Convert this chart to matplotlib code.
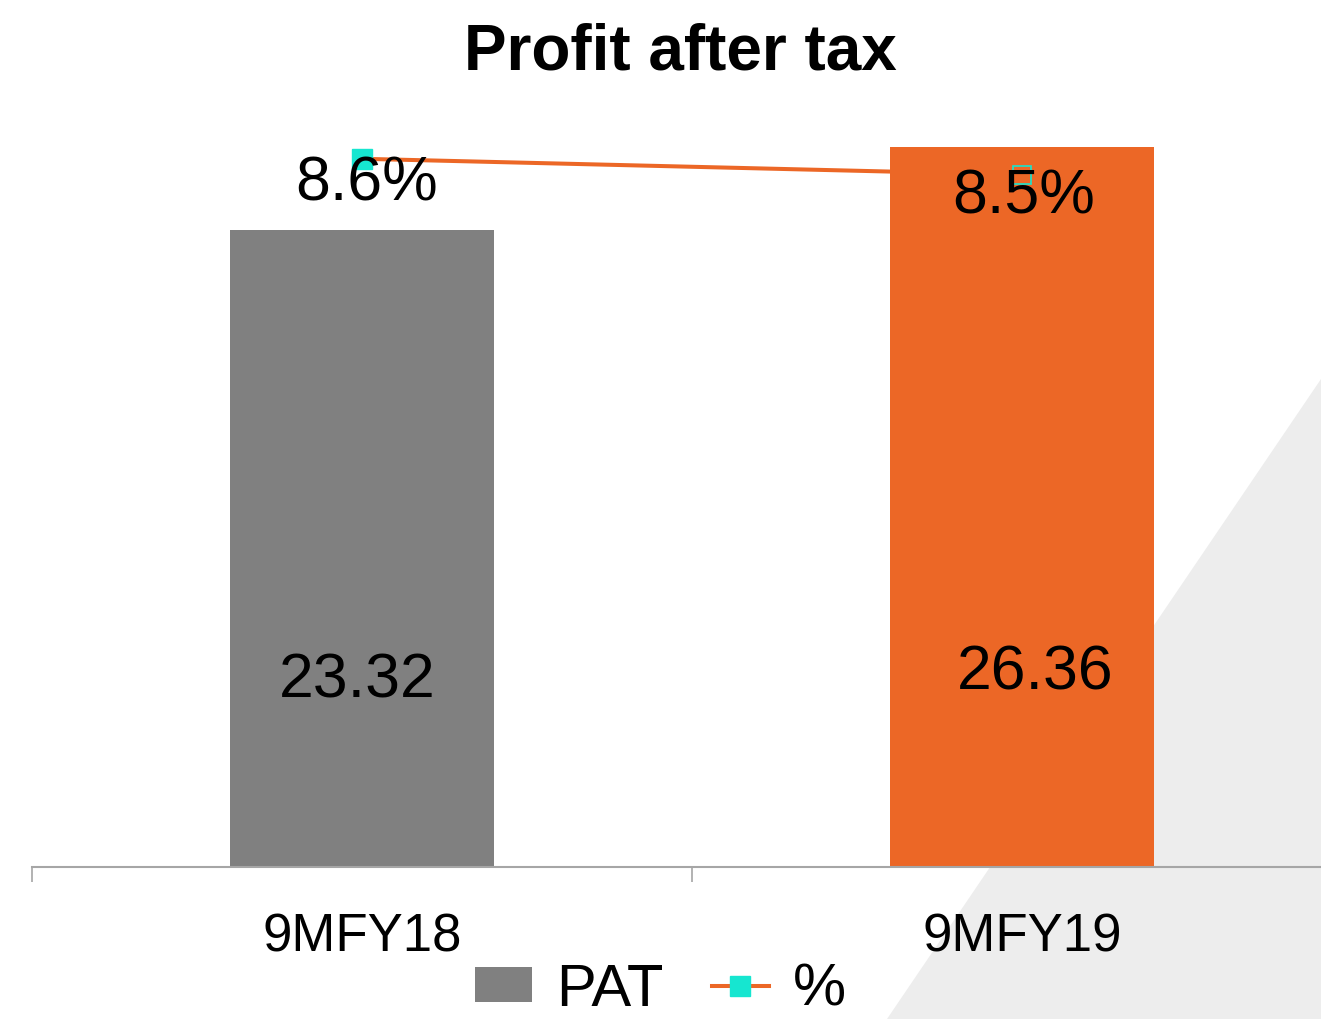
import matplotlib
matplotlib.use("Agg")
import matplotlib.pyplot as plt
from matplotlib.patches import Polygon, Patch
from matplotlib.lines import Line2D

plt.rcParams['font.family'] = ['Liberation Sans', 'DejaVu Sans']

categories = ["9MFY18", "9MFY19"]
pat_values = [23.32, 26.36]
pct_values = [8.6, 8.5]
pat_labels = ["23.32", "26.36"]
pct_labels = ["8.6%", "8.5%"]
title = "Profit after tax"

bar_colors = ["#808080", "#EC6726"]
line_color = "#EC6726"
marker_color = "#16E6D0"

W, H = 1321, 1019
fig = plt.figure(figsize=(W / 100, H / 100), dpi=100)

# background decorative triangle
tri = Polygon([(1321 / W, 1 - 379 / H), (887 / W, 0), (1, 0)], closed=True,
              transform=fig.transFigure, facecolor="#EDEDED", edgecolor="none", zorder=0)
fig.patches.append(tri)

left, right = 32 / W, 1352 / W
bottom, top = 1 - 867 / H, 1 - 130 / H
ax = fig.add_axes([left, bottom, right - left, top - bottom])
ax2 = ax.twinx()
ax.set_zorder(ax2.get_zorder() + 1)
ax.patch.set_visible(False)
ax2.patch.set_visible(False)

x = list(range(len(categories)))
ax.bar(x, pat_values, width=0.4, color=bar_colors, zorder=2)
ax.set_xlim(-0.5, 1.5)
ax.set_ylim(0, 26.98)

ax2.plot(x, pct_values, color=line_color, lw=2.9, marker="s", markersize=14.4,
         markerfacecolor=marker_color, markeredgecolor=marker_color, zorder=2)
ax2.set_ylim(4.17, 8.78)
ax.plot(x, pct_values, transform=ax2.transData, linestyle="none", marker="s",
        markersize=13.5, markerfacecolor="none", markeredgecolor=marker_color,
        markeredgewidth=1.2, zorder=3)

for a in (ax, ax2):
    for s in ("top", "right", "left"):
        a.spines[s].set_visible(False)
    a.set_yticks([])
ax2.spines["bottom"].set_visible(False)
ax.spines["bottom"].set_color("#A6A6A6")
ax.spines["bottom"].set_linewidth(1.5)

ax.set_xticks(x)
ax.set_xticklabels(categories, fontsize=38)
ax.tick_params(axis="x", which="major", length=0, pad=33)
ax.set_xticks([-0.5, 0.5, 1.5], minor=True)
ax.tick_params(axis="x", which="minor", length=11, width=1.2, color="#A6A6A6", direction="out")

# bar labels
bar_offsets = [(-5, 186), (13, 194)]
for i, (v, lab) in enumerate(zip(pat_values, pat_labels)):
    ax.annotate(lab, xy=(i, 0), xytext=bar_offsets[i], textcoords="offset pixels",
                ha="center", va="center", fontsize=45, color="black", zorder=5)

# line labels
pct_offsets = [(5, -25), (2, -22)]
for i, (v, lab) in enumerate(zip(pct_values, pct_labels)):
    ax.annotate(lab, xy=(i, v), xycoords=ax2.transData, xytext=pct_offsets[i],
                textcoords="offset pixels", ha="center", va="center", fontsize=45,
                color="black", zorder=5)

fig.text(680 / W, 1 - 70 / H, title, ha="center", va="baseline", fontsize=46,
         fontweight="bold", color="black")

handles = [Patch(facecolor=bar_colors[0], edgecolor="none"),
           Line2D([0], [0], color=line_color, lw=2.9, marker="s", markersize=14.4,
                  markerfacecolor=marker_color, markeredgecolor=marker_color)]
fig.legend(handles, ["PAT", "%"], loc="center", bbox_to_anchor=(0.5, 1 - 990 / H),
           ncol=2, frameon=False, fontsize=43, handlelength=0.95, handleheight=0.52,
           handletextpad=0.4, columnspacing=0.82, borderpad=0, borderaxespad=0)

fig.savefig("out.png", dpi=100)
